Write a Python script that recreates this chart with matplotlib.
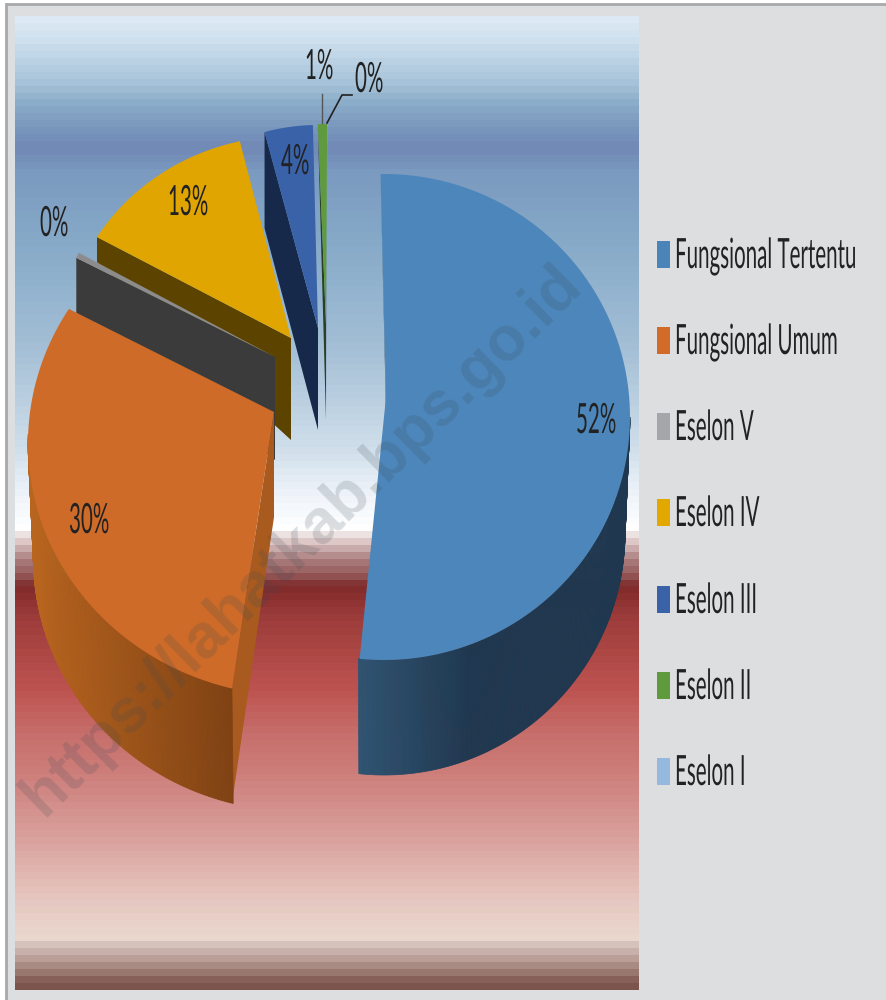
import matplotlib
matplotlib.use("Agg")
import matplotlib.pyplot as plt
import matplotlib.patheffects as pe
from matplotlib.colors import to_rgb
from matplotlib.patches import Polygon, Rectangle
from matplotlib.transforms import Affine2D
import numpy as np

# -------------------------------- data --------------------------------
categories = ["Fungsional Tertentu", "Fungsional Umum", "Eselon V", "Eselon IV",
              "Eselon III", "Eselon II", "Eselon I"]
values = [51.8, 30.0, 0.4, 12.6, 3.9, 0.9, 0.03]
pct_labels = ["52%", "30%", "0%", "13%", "4%", "1%", "0%"]
legend_colors = ["#4A84B8", "#D26B2A", "#A5A6A9", "#E3A800", "#3A62A8", "#5F9A3D", "#95B8DF"]

# -------------------------------- layout --------------------------------
top_colors = ["#4D86BA", "#CE6B28", "#8C8C8C", "#E0A500", "#3A62A8", "#5F9A3E", "#95B8DF"]
face_colors = ["#1F3850", "#A85A1F", "#3B3B3B", "#5C4400", "#16294A", "#2A4020", "#5F7A99"]
start_angle = [-0.8, 194, 297, 302, 344.5, 356.8, 360]
center_x = [384, 297, 275, 289.5, 318, 327, 327]
center_y = [417, 443, 360, 351, 320, 324, 324]
radius_x = [246, 269, 223, 227, 200, 165, 165]
radius_y = [243, 253, 225, 215, 195, 200, 200]
apex_x = [386, 274, 275, 291, 318, 326, 326]
apex_y = [397, 412, 357, 338, 328, 324, 324]
rim_depth = [0, 115, 55, 25, 96, 0, 0]
apex_depth = [15, 105, 103, 102, 102, 96, 96]

# curved outside wall: slice, from angle, to angle, x0, colour0, x1, colour1
walls = {0: (90, 185.6, 359, "#2F5472", 470, "#1F3850"),
         1: (194, 272, 30, "#B8651F", 232, "#7F4213")}
wall_drop = 115
wall_shrink = 0.98

label_x = [576, 69, 40, 168, 281, 305, 355]
label_y = [433, 533, 236, 215, 174, 79, 92]
legend_y = [268, 354, 440, 526, 613, 699, 785]

# background bands of the plot area, y position and colour
bg_y = [16, 40, 80, 105, 130, 150, 172, 250, 350, 450, 500, 532, 534, 547, 562, 577, 589,
        620, 690, 740, 780, 850, 900, 945, 947, 960, 975, 990]
bg_c = ["#E0ECF6", "#CFE0EE", "#A9C5DA", "#8AACC9", "#7895BC", "#7089B5", "#7A9ABF", "#88ABC9",
        "#A4BFD6", "#CFDEEA", "#F0F5FA", "#FFFFFF", "#F6F0F0", "#D8BEBE", "#AC7F7F",
        "#965C5C", "#7F2A2A", "#9B3C3A", "#BC524F", "#C76F6C", "#CD7F7B", "#DBA5A0",
        "#E5C5BE", "#EAD8CF", "#DCCBC3", "#C4ACA5", "#A08279", "#7B544D"]


class Stretch(pe.AbstractPathEffect):
    # the original picture is stretched upwards, so the text is too
    def __init__(self, sx, sy):
        super().__init__()
        self.sx = sx
        self.sy = sy

    def draw_path(self, renderer, gc, tpath, affine, rgbFace=None):
        renderer.draw_path(gc, tpath, Affine2D().scale(self.sx, self.sy) + affine, rgbFace)


def rim(i, angle, shrink=1.0):
    a = np.radians(angle)
    return center_x[i] + shrink * radius_x[i] * np.sin(a), center_y[i] - radius_y[i] * np.cos(a)


plt.rcParams['font.family'] = ['Lato', 'DejaVu Sans']
fig = plt.figure(figsize=(8.86, 10), dpi=100, facecolor="white")
ax = fig.add_axes([0, 0, 1, 1])
ax.axis("off")

# chart frame
ax.add_patch(Rectangle((6, 4), 890, 1000, facecolor="#DDDEE0", edgecolor="#A8A9AB", linewidth=2, zorder=0))

# stepped background
rows = np.arange(16, 990, 7)
band = np.zeros((len(rows), 1, 3))
rgb = np.array([to_rgb(c) for c in bg_c])
for k in range(3):
    band[:, 0, k] = np.interp(rows + 3.5, bg_y, rgb[:, k])
ax.imshow(band, extent=(15, 639, 990, 16), aspect="auto", interpolation="nearest", zorder=1)
ax.set_xlim(0, 886)
ax.set_ylim(1000, 0)

# slices, back ones first
for i in range(len(values) - 1, -1, -1):
    sweep = values[i] * 3.6
    angles = np.linspace(start_angle[i], start_angle[i] + sweep, 120)
    rx, ry = rim(i, angles)
    z = 2 + (len(values) - i)

    sx, sy = rim(i, start_angle[i])
    cut = [(sx, sy), (apex_x[i], apex_y[i]),
           (apex_x[i], apex_y[i] + apex_depth[i]), (sx, sy + rim_depth[i])]
    ax.add_patch(Polygon(cut, facecolor=face_colors[i], edgecolor="none", zorder=z))

    if i in walls:
        a0, a1, x0, c0, x1, c1 = walls[i]
        wa = np.arange(a0, a1 + 0.5, 0.5)
        wx, wy = rim(i, wa)
        bx, by = rim(i, wa, wall_shrink)
        c0 = np.array(to_rgb(c0))
        c1 = np.array(to_rgb(c1))
        for j in range(len(wa) - 1):
            f = np.clip((wx[j] - x0) / (x1 - x0), 0, 1)
            col = c0 + (c1 - c0) * f
            quad = [(wx[j], wy[j]), (wx[j + 1], wy[j + 1]),
                    (bx[j + 1], by[j + 1] + wall_drop), (bx[j], by[j] + wall_drop)]
            ax.add_patch(Polygon(quad, facecolor=col, edgecolor=col, linewidth=0.5, zorder=z))

    top = np.column_stack([np.r_[apex_x[i], rx], np.r_[apex_y[i], ry]])
    ax.add_patch(Polygon(top, facecolor=top_colors[i], edgecolor="none", zorder=z + 0.5))

# leader lines of the two small labels
ax.plot([322, 322], [94, 123], color="#555555", linewidth=1, zorder=20)
ax.plot([352, 342, 327], [95, 95, 123], color="#222222", linewidth=1.2, zorder=20)

squeeze = [Stretch(1.02, 2.07)]
for i in range(len(values)):
    ax.text(label_x[i], label_y[i], pct_labels[i], fontsize=14.5, color="#222222", ha="left",
            va="baseline", path_effects=squeeze, zorder=21)

    ax.add_patch(Rectangle((657, legend_y[i] - 27), 13, 27, facecolor=legend_colors[i],
                           edgecolor="none", zorder=20))
    ax.text(675, legend_y[i], categories[i], fontsize=14.5, color="#222222", ha="left",
            va="baseline", path_effects=squeeze, zorder=21)

# watermark
ax.text(302, 540, "https://lahatkab.bps.go.id", fontsize=45, fontweight="bold",
        family=["Liberation Sans", "DejaVu Sans"], color="#3A4A55", alpha=0.18, rotation=44.5,
        rotation_mode="anchor", ha="center", va="center", zorder=30)

fig.savefig("out.png", dpi=100)
